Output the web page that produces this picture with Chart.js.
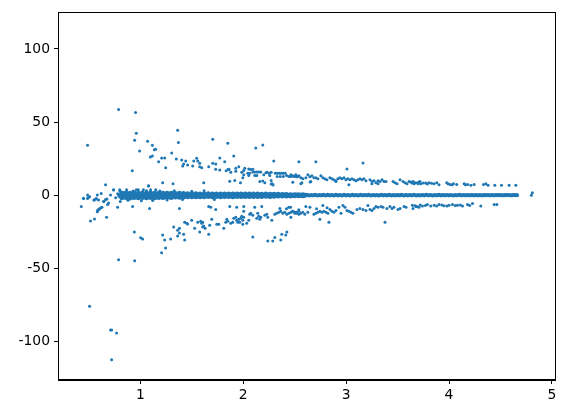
<!DOCTYPE html>
<html>
<head>
<meta charset="utf-8">
<script src="https://cdn.jsdelivr.net/npm/chart.js@4/dist/chart.umd.min.js"></script>
<style>
  body { margin: 0; background: #fff; }
</style>
</head>
<body>
<canvas id="myChart" width="565" height="413"></canvas>
<script>
const xTicks = [1, 2, 3, 4, 5];
const yTicks = [-100, -50, 0, 50, 100];

// points above the zero band
const upperPts = [
  [0.789,58.6],[0.954,56.5],[0.961,42.4],[0.945,37.6],[0.487,34.2],[1.071,36.9],[1.117,34.2],[0.993,30.2],
  [1.136,31.1],[1.149,31.5],[1.097,26.1],[1.117,26.8],[1.363,44.4],[1.37,36.0],[1.305,28.8],[1.35,24.8],
  [1.207,25.5],[1.237,25.5],[1.178,22.8],[1.246,18.7],[0.922,16.7],[0.662,7.2],[1.217,8.6],[1.318,7.9],
  [1.081,6.5],[0.74,3.8],[0.80,3.8],[0.867,3.8],[0.961,3.8],[0.98,3.8],[1.03,3.8],[1.10,3.8],[1.15,3.8],[1.078,6.3],
  [1.402,24.1],[1.421,21.4],[1.441,23.4],[1.412,20.0],[1.46,20.7],[1.509,20.0],[1.519,23.4],[1.548,25.2],
  [1.558,23.4],[1.577,21.8],[1.577,19.4],[1.597,18.7],[1.616,8.6],[1.665,19.4],[1.704,38.3],[1.704,21.8],
  [1.733,21.4],[1.733,17.8],[1.772,25.5],[1.772,17.3],[1.82,22.8],[1.834,16.7],[1.853,17.8],[1.863,17.6],
  [1.85,35.6],[1.879,15.7],[1.869,9.5],[1.918,10.1],[1.908,26.8],[1.928,18.5],[1.928,16.4],[1.957,19.4],
  [1.973,8.6],[1.986,15.7],[1.996,12.0],[2.005,16.9],[2.015,18.5],[2.005,14.0],[2.054,18.0],[2.073,17.6],
  [2.093,17.8],[2.044,15.1],[2.063,15.1],[2.054,13.5],[2.093,15.9],[2.112,15.9],[2.132,15.9],[2.151,15.9],
  [2.171,15.9],[2.112,13.5],[2.132,13.5],[2.122,32.2],[2.19,34.3],[2.161,9.3],[2.19,9.7],[2.2,14.0],
  [2.22,15.3],[2.21,8.6],[2.233,15.7],[2.253,15.1],[2.272,15.7],[2.258,13.5],[2.272,10.1],[2.282,7.9],
  [2.297,23.4],[2.311,15.0],[2.33,15.0],[2.35,15.1],[2.369,15.0],[2.389,15.1],[2.408,15.0],[2.421,13.5],
  [2.33,12.8],[2.359,12.8],[2.389,12.8],[2.443,12.8],[2.463,12.8],[2.492,12.8],[2.511,12.8],[2.531,12.8],
  [2.482,8.8],[2.541,22.8],[2.272,7.6],[2.29,7.0],[2.65,9.1],
  [2.706,22.8],[3.008,18.0],[3.164,22.1],[2.463,14.0],[2.482,13.3],[2.511,14.0],[2.521,12.6],[2.541,13.3],
  [2.56,12.0],[2.58,11.3],[2.609,12.0],[2.56,7.9],[2.57,8.6],[2.628,14.0],[2.648,12.6],[2.667,13.3],
  [2.687,12.0],[2.706,12.0],[2.657,9.3],[2.726,11.3],[2.755,13.3],[2.774,12.0],[2.794,11.3],[2.813,10.6],
  [2.842,12.0],[2.862,11.3],[2.881,10.6],[2.901,9.9],[2.92,11.3],[2.94,12.0],[2.959,11.3],[2.979,12.0],
  [2.998,10.6],[3.017,11.3],[2.901,9.3],[3.027,7.2],[3.037,10.6],[3.056,11.3],[3.076,10.6],[3.095,9.9],
  [3.115,10.6],[3.134,11.3],[3.154,10.6],[3.173,11.3],[3.193,9.9],[3.232,10.6],[3.251,9.3],[3.271,9.9],
  [3.29,8.6],[3.31,9.9],[3.329,9.3],[3.349,10.6],[3.368,9.3],[3.387,9.3],[3.251,7.9],[3.31,7.9],
  [3.456,9.3],[3.475,8.6],[3.495,7.9],[3.524,10.6],[3.553,9.3],[3.573,8.6],[3.592,7.9],[3.612,9.3],
  [3.651,9.3],[3.67,8.6],[3.699,7.9],[3.718,9.3],
  [3.628,9.0],[3.66,7.9],[3.693,8.6],[3.725,7.9],[3.774,8.3],[3.806,8.6],[3.855,7.9],[3.881,8.6],
  [3.903,7.2],[3.978,8.6],[4.01,7.4],[4.043,7.9],[4.075,7.4],[4.147,7.9],[4.18,7.4],[4.212,6.8],
  [4.244,7.4],[4.335,7.4],[4.358,7.9],[4.38,6.8],[4.445,6.8],[4.51,6.8],[4.584,6.8],[4.649,6.8],
  [3.64,8.3],[3.71,9.0],[3.75,8.3],[3.79,7.6],[3.83,8.1],[3.99,7.9],[4.03,7.2],[4.16,7.2]
];

// points below the zero band
const lowerPts = [
  [0.426,-7.7],[0.582,-11.3],[0.598,-9.5],[0.617,-8.6],[0.588,-10.1],[0.516,-17.6],[0.555,-16.2],[0.672,-15.1],
  [0.682,-6.3],[0.779,-8.3],[0.925,-7.7],[1.09,-9.0],[1.38,-9.0],[0.942,-25.2],[1.003,-29.0],[1.022,-30.0],
  [0.789,-44.1],[0.945,-44.8],[1.217,-27.2],[1.237,-30.6],[1.295,-29.9],[1.246,-36.0],[1.207,-39.4],[1.324,-21.8],
  [1.363,-23.9],[1.38,-22.5],[1.38,-25.9],[1.363,-27.9],[0.584,-10.6],[0.604,-9.5],[0.627,-8.3],
  [0.507,-75.9],[0.711,-92.1],[0.721,-92.1],[0.769,-94.1],[0.721,-112.4],
  [1.431,-18.4],[1.451,-19.1],[1.46,-19.6],[1.431,-30.6],[1.421,-26.6],[1.499,-17.1],[1.528,-22.5],[1.558,-18.4],
  [1.587,-17.8],[1.597,-19.1],[1.606,-18.4],[1.577,-25.2],[1.606,-21.8],[1.63,-22.5],[1.616,-21.1],[1.665,-26.6],
  [1.674,-20.5],[1.665,-7.7],[1.685,-8.3],[1.694,-16.4],[1.733,-9.7],[1.743,-19.8],[1.762,-19.8],[1.811,-22.5],
  [1.83,-18.4],[1.85,-17.8],[1.84,-16.4],[1.869,-7.7],[1.879,-19.1],[1.898,-18.4],[1.908,-15.8],[1.928,-15.1],
  [1.937,-17.1],[1.957,-16.4],[1.947,-18.4],[1.937,-8.3],[1.966,-18.4],[1.976,-15.8],[1.986,-14.4],[1.996,-17.1],
  [2.005,-15.1],[2.005,-7.7],[2.005,-11.0],[1.996,-19.8],[2.034,-19.1],[2.054,-17.1],[2.063,-13.0],[2.073,-12.4],
  [2.093,-13.7],[2.093,-28.6],[2.112,-8.3],[2.132,-15.8],[2.141,-12.4],[2.151,-14.4],[2.161,-16.4],[2.171,-15.1],
  [2.18,-7.7],[2.21,-13.7],[2.229,-13.0],[2.239,-15.1],[2.239,-31.3],[2.287,-31.3],[2.307,-28.9],[2.365,-30.6],
  [2.375,-26.6],[2.414,-27.2],[2.424,-25.2],[2.278,-17.1],[2.307,-13.0],[2.326,-12.4],[2.346,-11.7],[2.365,-11.0],
  [2.385,-12.4],[2.356,-9.0],[2.404,-11.7],[2.424,-13.0],[2.443,-12.4],[2.463,-11.7],[2.482,-11.0],[2.502,-11.7],
  [2.521,-12.4],[2.541,-11.0],[2.443,-8.3],[2.463,-15.1],[2.42,-9.3],[2.54,-10.0],[2.713,-9.3],[2.815,-8.6],
  [2.46,-8.3],[2.482,-11.0],[2.502,-12.4],[2.521,-11.7],[2.541,-13.0],[2.56,-12.4],[2.58,-11.7],[2.599,-13.0],
  [2.609,-7.7],[2.628,-11.7],[2.648,-8.3],[2.687,-13.0],[2.706,-12.4],[2.726,-11.7],[2.745,-11.0],[2.765,-11.7],
  [2.774,-7.0],[2.784,-11.0],[2.804,-11.7],[2.823,-12.4],[2.843,-9.7],[2.862,-11.0],[2.882,-11.7],[2.901,-10.4],
  [2.93,-8.3],[2.95,-12.4],[2.969,-7.0],[2.989,-8.3],[3.008,-10.4],[3.027,-11.0],[3.047,-11.7],[3.066,-12.4],
  [2.745,-16.4],[2.833,-18.4],[3.105,-9.7],[3.134,-9.0],[3.164,-9.7],[3.193,-10.4],[3.212,-7.0],[3.232,-9.7],
  [3.251,-10.4],[3.271,-9.0],[3.29,-7.7],[3.31,-8.3],[3.339,-7.7],[3.358,-8.3],[3.378,-18.4],[3.397,-9.0],
  [3.426,-7.7],[3.446,-9.0],[3.465,-8.3],[3.504,-9.7],[3.524,-9.0],[3.563,-7.7],[3.582,-8.3],[3.65,-9.0],
  [3.679,-7.7],[3.708,-8.3],
  [3.644,-6.8],[3.693,-7.9],[3.742,-7.4],[3.79,-6.3],[3.822,-7.4],[3.855,-6.8],[3.903,-6.3],[3.952,-7.2],
  [4.0,-6.8],[4.033,-6.3],[4.082,-6.8],[4.131,-7.4],[4.18,-6.3],[4.228,-5.6],[4.309,-7.4],[4.439,-6.3],
  [4.465,-6.3],[3.67,-7.2],[3.72,-6.6],[3.77,-7.0],[3.88,-7.4],[3.93,-6.6],[3.98,-7.4],[4.06,-7.0],
  [4.11,-6.6],[4.2,-7.0]
];

// loose points around zero, left side
const nearZeroPts = [
  [0.448,-2.3],[0.487,-2.3],[0.487,0.2],[0.507,-1.1],[0.549,-3.2],[0.572,-2.3],[0.582,0.2],[0.62,1.1],
  [0.647,-4.1],[0.662,-2.9],[0.711,0.2],[0.8,2.9],[0.448,-2.0],[0.497,-1.4],[0.552,-3.2],[0.569,-2.5],
  [0.594,-3.2],[0.643,-4.3],[0.676,-2.5],[0.692,-5.4],[0.74,3.6],[0.805,-4.3],[0.76,-1.8],[0.78,1.0],
  [0.88,-3.4],[0.93,2.8],[1.01,-3.8],[1.06,3.0],[1.12,-3.6],[1.19,2.9],[1.26,-3.3],[1.33,3.1],
  [1.41,-3.0],[1.5,2.7],[1.62,3.0],[1.72,-2.9],[4.8,0.0],[4.81,1.7]
];

// the dense band around zero
const bandPts = [
  [0.82,1.5],[0.86,1.6],[0.90,1.4],[0.94,1.5],[0.98,1.3],[1.02,1.5],[1.06,1.4],[1.10,1.5],[1.14,1.3],[1.18,1.4],
  [1.22,1.3],[1.26,1.4],[1.30,1.3],[1.34,1.2],[1.38,1.3],[1.42,1.1],[1.46,1.0],[1.50,0.9],[1.54,1.0],[1.58,0.9],
  [1.62,0.9],[1.66,1.0],[1.70,0.9],[1.74,0.8],[1.78,0.9],[1.82,0.9],[1.86,0.8],[1.90,0.9],[1.94,0.8],[1.98,0.9],
  [2.02,0.8],[2.06,0.8],[2.10,0.9],[2.14,0.8],[2.18,0.7],[2.22,0.8],[2.26,0.7],[2.30,0.6],[2.34,0.6],[2.38,0.5],
  [2.42,0.5],[2.46,0.4],[2.50,0.4],[2.54,0.3],[2.58,0.3],
  [0.80,-0.2],[0.84,0.1],[0.88,-0.3],[0.92,0.0],[0.96,-0.2],[1.00,0.1],[1.04,-0.1],[1.08,0.0],[1.12,-0.3],[1.16,0.0],
  [1.20,-0.2],[1.24,0.1],[1.28,-0.1],[1.32,0.0],[1.36,-0.2],[1.40,0.0],[1.44,-0.1],[1.48,0.1],[1.52,-0.1],[1.56,0.0],
  [1.60,-0.2],[1.64,0.0],[1.68,-0.1],[1.72,0.1],[1.76,-0.1],[1.80,0.0],[1.84,-0.1],[1.88,0.0],[1.92,-0.1],[1.96,0.1],
  [2.00,-0.1],[2.04,0.0],[2.08,-0.1],[2.12,0.0],[2.16,0.1],[2.20,-0.1],[2.24,0.0],[2.28,0.1],[2.32,-0.1],[2.36,0.0],
  [2.40,0.1],[2.44,-0.1],[2.48,0.0],[2.52,0.1],[2.56,-0.1],[2.60,0.0],
  [0.82,-1.8],[0.86,-1.6],[0.90,-1.9],[0.94,-1.5],[0.98,-1.7],[1.02,-1.6],[1.06,-1.8],[1.10,-1.5],[1.14,-1.7],[1.18,-1.5],
  [1.22,-1.6],[1.26,-1.4],[1.30,-1.5],[1.34,-1.3],[1.38,-1.4],[1.42,-1.2],[1.46,-1.1],[1.50,-1.0],[1.54,-1.1],[1.58,-1.0],
  [1.62,-1.0],[1.66,-0.9],[1.70,-1.0],[1.74,-0.9],[1.78,-1.0],[1.82,-0.9],[1.86,-0.9],[1.90,-1.0],[1.94,-0.9],[1.98,-0.9],
  [2.02,-0.9],[2.06,-0.8],[2.10,-0.9],[2.14,-0.8],[2.18,-0.8],[2.22,-0.7],[2.26,-0.8],[2.30,-0.7],[2.34,-0.6],[2.38,-0.6],
  [2.42,-0.5],[2.46,-0.5],[2.50,-0.4],[2.54,-0.4],[2.58,-0.3],
  [2.62,0.2],[2.66,0.1],[2.70,0.2],[2.74,0.1],[2.78,0.2],[2.82,0.2],[2.86,0.1],[2.90,0.2],[2.94,0.1],[2.98,0.2],
  [3.02,0.1],[3.06,0.2],[3.10,0.1],[3.14,0.2],[3.18,0.1],[3.22,0.2],[3.26,0.1],[3.30,0.1],[3.34,0.2],[3.38,0.1],
  [3.42,0.2],[3.46,0.1],[3.50,0.1],[3.54,0.2],[3.58,0.1],[3.62,0.1],[3.66,0.2],[3.70,0.1],[3.74,0.1],[3.78,0.2],
  [3.82,0.1],[3.86,0.1],[3.90,0.2],[3.94,0.1],[3.98,0.1],[4.02,0.1],[4.06,0.1],[4.10,0.2],[4.14,0.1],[4.18,0.1],
  [4.22,0.1],[4.26,0.1],[4.30,0.1],[4.34,0.0],[4.38,0.1],[4.42,0.1],[4.46,0.0],[4.50,0.1],[4.54,0.0],[4.58,0.1],
  [4.62,0.0],[4.66,0.0],
  [2.64,-0.2],[2.68,-0.1],[2.72,-0.2],[2.76,-0.1],[2.80,-0.2],[2.84,-0.1],[2.88,-0.2],[2.92,-0.1],[2.96,-0.2],[3.00,-0.1],
  [3.04,-0.2],[3.08,-0.1],[3.12,-0.2],[3.16,-0.1],[3.20,-0.1],[3.24,-0.2],[3.28,-0.1],[3.32,-0.2],[3.36,-0.1],[3.40,-0.1],
  [3.44,-0.2],[3.48,-0.1],[3.52,-0.1],[3.56,-0.2],[3.60,-0.1],[3.64,-0.1],[3.68,-0.2],[3.72,-0.1],[3.76,-0.1],[3.80,-0.1],
  [3.84,-0.2],[3.88,-0.1],[3.92,-0.1],[3.96,-0.1],[4.00,-0.1],[4.04,-0.2],[4.08,-0.1],[4.12,-0.1],[4.16,-0.1],[4.20,-0.1],
  [4.24,-0.1],[4.28,-0.1],[4.32,-0.1],[4.36,0.0],[4.40,-0.1],[4.44,-0.1],[4.48,0.0],[4.52,-0.1],[4.56,0.0],[4.60,-0.1],
  [4.64,0.0]
];

const blue = "#1f77b4";
const toXY = (pts) => pts.map((p) => ({ x: p[0], y: p[1] }));

// matplotlib style box round the plot area
const frame = {
  id: "frame",
  afterDatasetsDraw(chart) {
    const a = chart.chartArea;
    const ctx = chart.ctx;
    ctx.save();
    ctx.strokeStyle = "#000";
    ctx.lineWidth = 1;
    ctx.strokeRect(Math.round(a.left) + 0.5, Math.round(a.top) + 0.5, Math.round(a.right - a.left), Math.round(a.bottom - a.top));
    ctx.restore();
  },
};

const tickFont = { family: "DejaVu Sans", size: 13.9 };

const ctx = document.getElementById("myChart").getContext("2d");
const chart = new Chart(ctx, {
  type: "scatter",
  data: {
    datasets: [
      {
        data: toXY(bandPts),
        backgroundColor: blue,
        borderWidth: 0,
        pointRadius: (c) => (c.raw && c.raw.x < 2.61 ? 2.5 : 2.1),
      },
      { data: toXY(nearZeroPts), backgroundColor: blue, borderWidth: 0, pointRadius: 1.5 },
      { data: toXY(upperPts), backgroundColor: blue, borderWidth: 0, pointRadius: 1.5 },
      { data: toXY(lowerPts), backgroundColor: blue, borderWidth: 0, pointRadius: 1.5 },
    ],
  },
  options: {
    responsive: false,
    animation: false,
    devicePixelRatio: 1,
    layout: { padding: { top: 11, right: 10, left: 0, bottom: 0 } },
    plugins: { legend: { display: false }, tooltip: { enabled: false } },
    scales: {
      x: {
        type: "linear",
        min: 0.2,
        max: 5.03,
        afterBuildTicks: (s) => { s.ticks = xTicks.map((v) => ({ value: v })); },
        afterFit: (s) => { s.height = 33; },
        ticks: { color: "#000", font: tickFont, padding: 3, maxRotation: 0, autoSkip: false, callback: (v) => String(v) },
        grid: { display: true, drawOnChartArea: false, drawTicks: true, tickLength: 4, tickColor: "#000", tickWidth: 1 },
        border: { display: true, color: "#000", width: 1 },
      },
      y: {
        type: "linear",
        min: -126.3,
        max: 125,
        afterBuildTicks: (s) => { s.ticks = yTicks.map((v) => ({ value: v })); },
        afterFit: (s) => { s.width = 58; },
        ticks: { color: "#000", font: tickFont, padding: 4, autoSkip: false, callback: (v) => String(v) },
        grid: { display: true, drawOnChartArea: false, drawTicks: true, tickLength: 4, tickColor: "#000", tickWidth: 1 },
        border: { display: true, color: "#000", width: 1 },
      },
    },
  },
  plugins: [frame],
});
</script>
</body>
</html>
